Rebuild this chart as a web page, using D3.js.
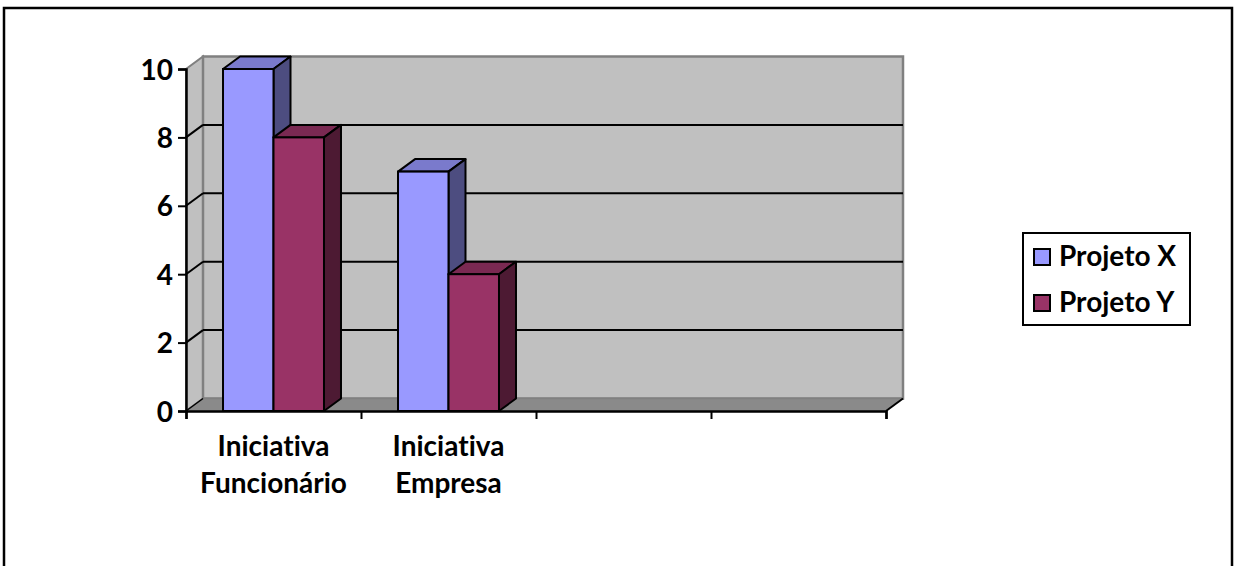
<!DOCTYPE html>
<html>
<head>
<meta charset="utf-8">
<script src="https://cdn.jsdelivr.net/npm/d3@7"></script>
<style>
  html, body { margin: 0; padding: 0; background: #fff; }
  svg { display: block; }
  text { font-family: Lato, "Open Sans", sans-serif; font-weight: bold; fill: #000;
         font-variant-ligatures: none; font-feature-settings: "liga" 0; }
</style>
</head>
<body>
<svg id="chart" width="1234" height="566"></svg>
<script>
// Categories (the last two slots are empty) and series values
const categories = ["Iniciativa Funcionário", "Iniciativa Empresa", "", ""];
const seriesNames = ["Projeto X", "Projeto Y"];
const projetoX = [10, 7, null, null];
const projetoY = [8, 4, null, null];
const yTicks = [0, 2, 4, 6, 8, 10];

// Front / top / side shades for each series
const faceColors = [
  { front: "#9999ff", top: "#7a7acc", side: "#4d4d80" },
  { front: "#993366", top: "#7a2952", side: "#4d1a33" }
];

const FONT_SIZE = 28;
const svg = d3.select("#chart");

// outer frame
svg.append("rect").attr("x", 4).attr("y", 8).attr("width", 1228).attr("height", 570)
  .attr("fill", "#fff").attr("stroke", "#000").attr("stroke-width", 2.5);

// plot geometry
const plotLeft = 186, plotRight = 886, plotBottom = 411, plotTop = 69;
const DX = 17, DY = -12.5; // depth offset of the 3D box

const y = d3.scaleLinear().domain([0, 10]).range([plotBottom, plotTop]);
const x = d3.scaleBand().domain(d3.range(categories.length)).range([plotLeft, plotRight]).paddingInner(0).paddingOuter(0);
const xs = d3.scaleBand().domain(d3.range(seriesNames.length)).range([0, x.bandwidth()])
  .paddingInner(0).paddingOuter(0.733);

const g = svg.append("g");
const poly = pts => pts.map(p => p.join(",")).join(" ");

// left side wall
g.append("polygon")
  .attr("points", poly([[plotLeft, plotBottom], [plotLeft, y(10)], [plotLeft + DX, y(10) + DY], [plotLeft + DX, plotBottom + DY]]))
  .attr("fill", "#c0c0c0").attr("stroke", "#808080").attr("stroke-width", 2);

// back wall
g.append("rect")
  .attr("x", plotLeft + DX).attr("y", y(10) + DY)
  .attr("width", plotRight - plotLeft).attr("height", plotBottom - y(10))
  .attr("fill", "#c0c0c0").attr("stroke", "#808080").attr("stroke-width", 2.5);

// floor
g.append("polygon")
  .attr("points", poly([[plotLeft, plotBottom], [plotRight, plotBottom], [plotRight + DX, plotBottom + DY], [plotLeft + DX, plotBottom + DY]]))
  .attr("fill", "#8a8a8a").attr("stroke", "none");
g.append("line").attr("x1", plotLeft + DX).attr("x2", plotRight + DX)
  .attr("y1", plotBottom + DY).attr("y2", plotBottom + DY).attr("stroke", "#808080").attr("stroke-width", 1.5);

// gridlines on back and side walls
const gridVals = yTicks.filter(v => v > 0 && v < 10);
g.selectAll(".grid-back").data(gridVals).join("line")
  .attr("x1", plotLeft + DX).attr("x2", plotRight + DX)
  .attr("y1", d => y(d) + DY).attr("y2", d => y(d) + DY)
  .attr("stroke", "#000").attr("stroke-width", 2);
g.selectAll(".grid-side").data(gridVals).join("line")
  .attr("x1", plotLeft).attr("x2", plotLeft + DX)
  .attr("y1", d => y(d)).attr("y2", d => y(d) + DY)
  .attr("stroke", "#000").attr("stroke-width", 2);

// floor front edges
g.append("line").attr("x1", plotLeft).attr("x2", plotLeft + DX).attr("y1", plotBottom).attr("y2", plotBottom + DY)
  .attr("stroke", "#000").attr("stroke-width", 1.5);
g.append("line").attr("x1", plotRight).attr("x2", plotRight + DX).attr("y1", plotBottom).attr("y2", plotBottom + DY)
  .attr("stroke", "#000").attr("stroke-width", 2);

// columns
const series = [projetoX, projetoY];
const bars = [];
categories.forEach((c, ci) => {
  series.forEach((vals, si) => {
    if (vals[ci] == null) return;
    bars.push({ ci, si, v: vals[ci] });
  });
});
const barG = g.selectAll(".bar").data(bars).join("g");
barG.each(function(d) {
  const sel = d3.select(this);
  const x0 = x(d.ci) + xs(d.si), x1 = x0 + xs.bandwidth();
  const yt = y(d.v), yb = y(0);
  const col = faceColors[d.si];
  sel.append("polygon")
    .attr("points", poly([[x0, yt], [x1, yt], [x1 + DX, yt + DY], [x0 + DX, yt + DY]]))
    .attr("fill", col.top).attr("stroke", "#000").attr("stroke-width", 2).attr("stroke-linejoin", "round");
  sel.append("polygon")
    .attr("points", poly([[x1, yt], [x1 + DX, yt + DY], [x1 + DX, yb + DY], [x1, yb]]))
    .attr("fill", col.side).attr("stroke", "#000").attr("stroke-width", 2).attr("stroke-linejoin", "round");
  sel.append("rect")
    .attr("x", x0).attr("y", yt).attr("width", x1 - x0).attr("height", yb - yt)
    .attr("fill", col.front).attr("stroke", "#000").attr("stroke-width", 2);
});

// value axis
const yAxis = d3.axisLeft(y).tickValues(yTicks).tickSize(8).tickPadding(5).tickFormat(d3.format("d"));
const ya = svg.append("g").attr("transform", `translate(${plotLeft},0)`).call(yAxis);
ya.select(".domain").attr("stroke", "#000").attr("stroke-width", 2.5);
ya.selectAll(".tick line").attr("stroke", "#000").attr("stroke-width", 2);
ya.selectAll(".tick text").attr("font-size", FONT_SIZE).attr("font-family", "Lato, sans-serif")
  .attr("font-weight", "bold").attr("fill", "#000").attr("dy", "0.36em");

// category axis: ticks at band boundaries
const xEdge = d3.scaleLinear().domain([0, categories.length]).range([plotLeft, plotRight]);
const xAxis = d3.axisBottom(xEdge).tickValues(d3.range(categories.length + 1)).tickSize(8).tickFormat("");
const xa = svg.append("g").attr("transform", `translate(0,${plotBottom})`).call(xAxis);
xa.select(".domain").attr("stroke", "#000").attr("stroke-width", 2.5);
xa.selectAll(".tick line").attr("stroke", "#000").attr("stroke-width", 2);

// category labels, wrapped onto two lines
const labels = svg.append("g");
categories.forEach((c, ci) => {
  if (!c) return;
  const words = c.split(" ");
  const t = labels.append("text").attr("text-anchor", "middle").attr("font-size", FONT_SIZE)
    .attr("x", x(ci) + x.bandwidth() / 2).attr("y", 456);
  words.forEach((w, wi) => {
    t.append("tspan").attr("x", x(ci) + x.bandwidth() / 2).attr("dy", wi === 0 ? 0 : 37).text(w);
  });
});

// legend
const lg = svg.append("g");
lg.append("rect").attr("x", 1023).attr("y", 233).attr("width", 167).attr("height", 92)
  .attr("fill", "#fff").attr("stroke", "#000").attr("stroke-width", 2);
seriesNames.forEach((name, i) => {
  const cy = 257 + i * 46;
  lg.append("rect").attr("x", 1034).attr("y", cy - 8).attr("width", 16).attr("height", 16)
    .attr("fill", faceColors[i].front).attr("stroke", "#000").attr("stroke-width", 2);
  lg.append("text").attr("x", 1059).attr("y", cy + 9).attr("font-size", FONT_SIZE).text(name);
});
</script>
</body>
</html>
